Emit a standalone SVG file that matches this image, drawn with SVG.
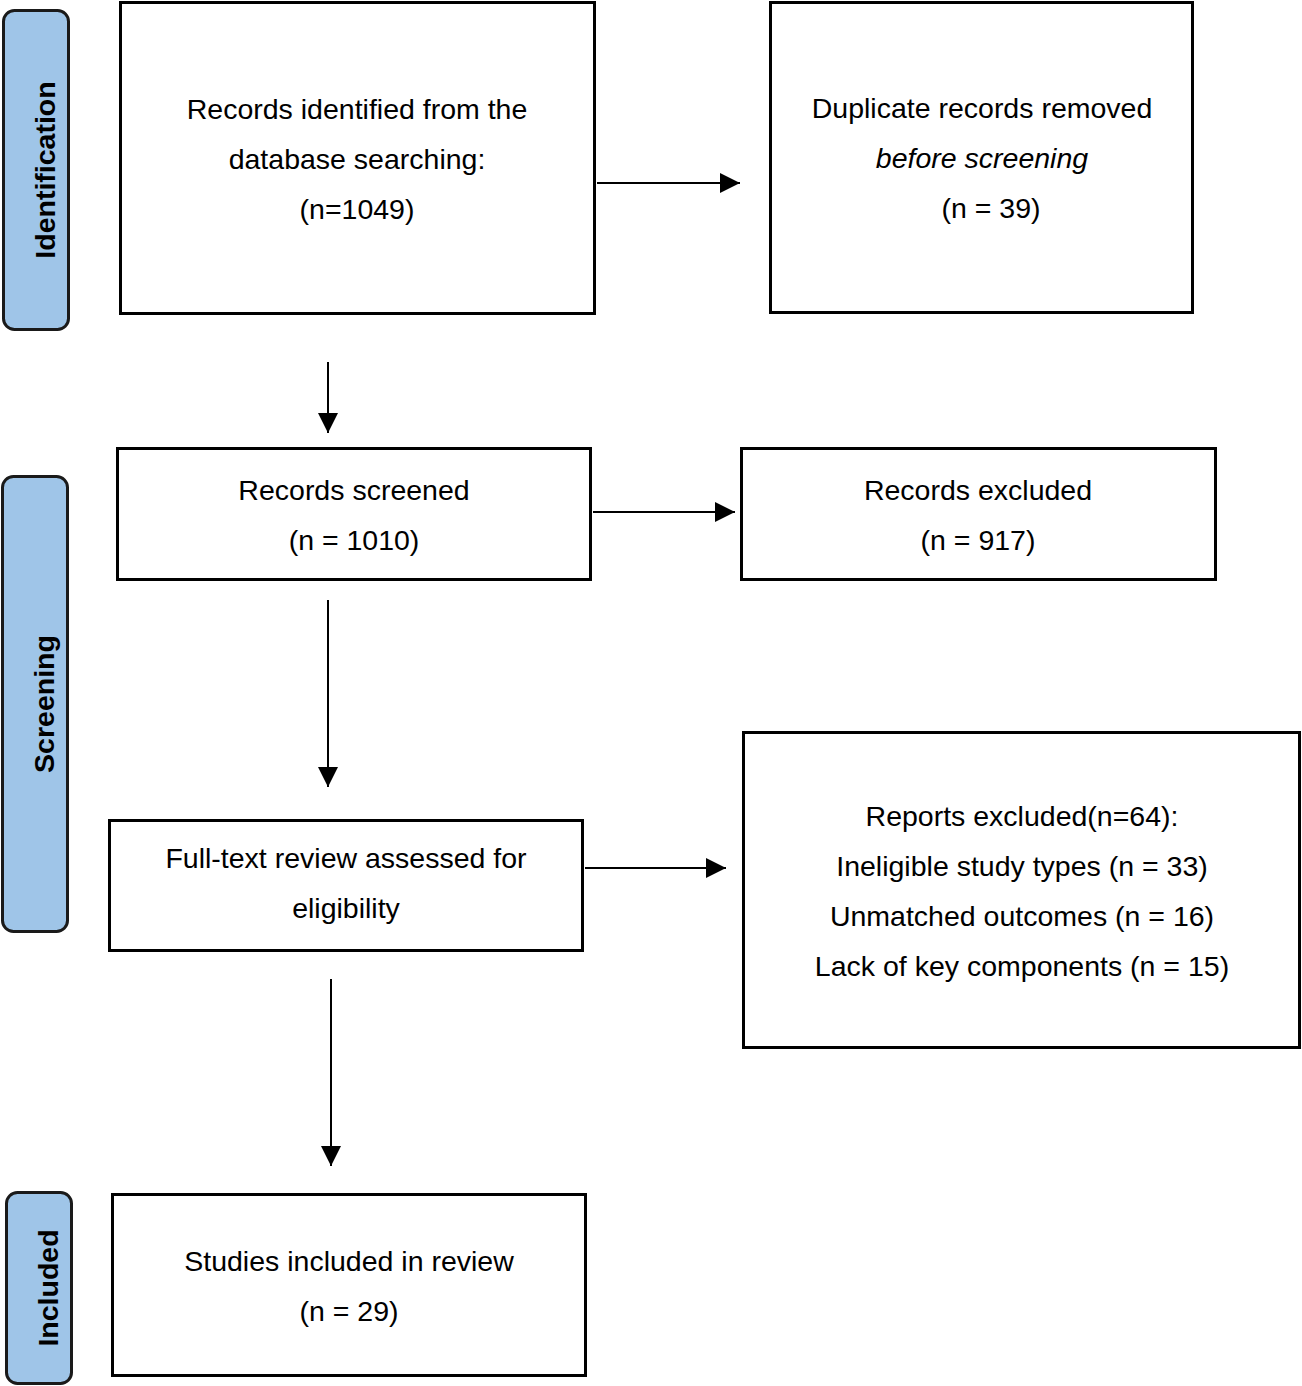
<svg xmlns="http://www.w3.org/2000/svg" width="1302" height="1386" viewBox="0 0 1302 1386">
<style>
.box{fill:#fff;stroke:#000;stroke-width:3}
.side{fill:#9fc5e8;stroke:#1a1a1a;stroke-width:3}
.t{font-family:"Liberation Sans",Arial,sans-serif;font-size:28.5px;fill:#000;text-anchor:middle}
.s{font-family:"Liberation Sans",Arial,sans-serif;font-size:28.5px;font-weight:bold;fill:#000;text-anchor:middle}
.c{stroke:#000;stroke-width:2;fill:none;marker-end:url(#ah)}
</style>
<defs>
<marker id="ah" markerWidth="20" markerHeight="20" refX="20" refY="10" viewBox="0 0 20 20" markerUnits="userSpaceOnUse" orient="auto">
<path d="M0,0 L20,10 L0,20 Z" fill="#000"/>
</marker>
</defs>
<rect width="1302" height="1386" fill="#fff"/>
<g id="phase-identification">
<rect class="side" x="3.5" y="10.5" width="65" height="319" rx="11"/>
<text class="s" transform="translate(55,170) rotate(-90)">Identification</text>
</g>
<g id="phase-screening">
<rect class="side" x="2.5" y="476.5" width="65" height="455" rx="11"/>
<text class="s" transform="translate(54,704) rotate(-90)">Screening</text>
</g>
<g id="phase-included">
<rect class="side" x="6.5" y="1192.5" width="65" height="191" rx="11"/>
<text class="s" transform="translate(58,1288) rotate(-90)">Included</text>
</g>
<g id="connectors">
<line class="c" x1="597" y1="183" x2="740" y2="183"/>
<line class="c" x1="328" y1="362" x2="328" y2="433"/>
<line class="c" x1="593" y1="512" x2="735" y2="512"/>
<line class="c" x1="328" y1="600" x2="328" y2="787"/>
<line class="c" x1="585" y1="868" x2="726" y2="868"/>
<line class="c" x1="331" y1="979" x2="331" y2="1166"/>
</g>
<g id="records-identified">
<rect class="box" x="120.5" y="2.5" width="474" height="311"/>
<text class="t" x="357" y="119">Records identified from the</text>
<text class="t" x="357" y="169">database searching:</text>
<text class="t" x="357" y="219">(n=1049)</text>
</g>
<g id="duplicates-removed">
<rect class="box" x="770.5" y="2.5" width="422" height="310"/>
<text class="t" x="982" y="118">Duplicate records removed</text>
<text class="t" x="982" y="168" font-style="italic">before screening</text>
<text class="t" x="991" y="218">(n = 39)</text>
</g>
<g id="records-screened">
<rect class="box" x="117.5" y="448.5" width="473" height="131"/>
<text class="t" x="354" y="500">Records screened</text>
<text class="t" x="354" y="550">(n = 1010)</text>
</g>
<g id="records-excluded">
<rect class="box" x="741.5" y="448.5" width="474" height="131"/>
<text class="t" x="978" y="500">Records excluded</text>
<text class="t" x="978" y="550">(n = 917)</text>
</g>
<g id="full-text">
<rect class="box" x="109.5" y="820.5" width="473" height="130"/>
<text class="t" x="346" y="868">Full-text review assessed for</text>
<text class="t" x="346" y="918">eligibility</text>
</g>
<g id="reports-excluded">
<rect class="box" x="743.5" y="732.5" width="556" height="315"/>
<text class="t" x="1022" y="826">Reports excluded(n=64):</text>
<text class="t" x="1022" y="876">Ineligible study types (n = 33)</text>
<text class="t" x="1022" y="926">Unmatched outcomes (n = 16)</text>
<text class="t" x="1022" y="976">Lack of key components (n = 15)</text>
</g>
<g id="studies-included">
<rect class="box" x="112.5" y="1194.5" width="473" height="181"/>
<text class="t" x="349" y="1271">Studies included in review</text>
<text class="t" x="349" y="1321">(n = 29)</text>
</g>
</svg>
